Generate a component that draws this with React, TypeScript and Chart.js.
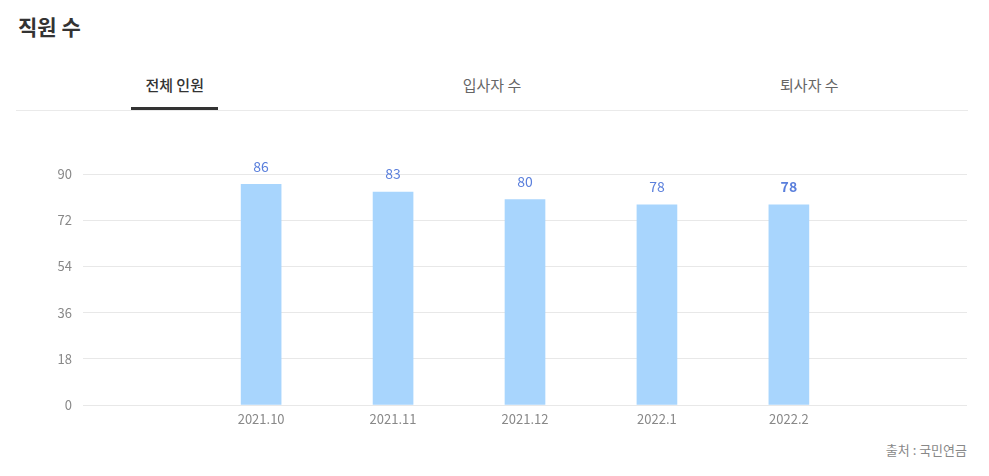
import React, { useEffect, useRef } from "react";
import { Chart, registerables } from "chart.js";

Chart.register(...registerables);

const categories = ["2021.10", "2021.11", "2021.12", "2022.1", "2022.2"];
const employees = [86, 83, 80, 78, 78];
const yTicks = [0, 18, 36, 54, 72, 90];
const tabs = ["전체 인원", "입사자 수", "퇴사자 수"];

const FONT = "'Noto Sans CJK KR', 'Noto Sans', sans-serif";

export default function App() {
  const ref = useRef<HTMLCanvasElement | null>(null);

  useEffect(() => {
    document.body.style.margin = "0";
    const canvas = ref.current;
    if (!canvas) return;

    const labelPlugin = {
      id: "valueLabels",
      afterDatasetsDraw(chart: any) {
        const ctx = chart.ctx;
        const meta = chart.getDatasetMeta(0);
        ctx.save();
        ctx.textAlign = "center";
        ctx.textBaseline = "middle";
        ctx.fillStyle = "#5a7fdc";
        meta.data.forEach((bar: any, i: number) => {
          const last = i === meta.data.length - 1;
          ctx.font = `${last ? "bold " : ""}14px ${FONT}`;
          ctx.fillText(String(employees[i]), bar.x, bar.y - 18);
        });
        ctx.restore();
      },
    };

    const chart = new Chart(canvas, {
      type: "bar",
      data: {
        datasets: [
          {
            data: employees.map((v, i) => ({ x: i, y: v })),
            backgroundColor: "#a8d5fd",
            barThickness: 40,
            borderWidth: 0,
          },
        ],
      },
      options: {
        animation: false,
        responsive: false,
        maintainAspectRatio: false,
        layout: { padding: { top: 24, right: 22, left: 0, bottom: 0 } },
        plugins: { legend: { display: false }, tooltip: { enabled: false } },
        scales: {
          x: {
            type: "linear",
            offset: false,
            min: -1.35,
            max: categories.length - 1 + 1.35,
            grid: { display: false },
            border: { display: false },
            afterBuildTicks: (axis: any) => {
              axis.ticks = categories.map((_, i) => ({ value: i }));
            },
            afterFit: (axis: any) => {
              axis.height = 35;
            },
            ticks: {
              autoSkip: false,
              maxRotation: 0,
              padding: -2,
              color: "#888",
              font: { family: FONT, size: 13 },
              callback: (v: any) => categories[v] ?? "",
            },
          },
          y: {
            min: 0,
            max: 90,
            afterBuildTicks: (axis: any) => {
              axis.ticks = yTicks.map((v) => ({ value: v }));
            },
            afterFit: (axis: any) => {
              axis.width = 83;
            },
            border: { display: false },
            grid: { color: "#e8e8e8", drawTicks: false, lineWidth: 1 },
            ticks: {
              padding: 11,
              color: "#888",
              font: { family: FONT, size: 13 },
            },
          },
        },
      },
      plugins: [labelPlugin],
    });
    return () => chart.destroy();
  }, []);

  return (
    <div
      style={{
        position: "absolute",
        left: 0,
        top: 0,
        width: 989,
        height: 476,
        background: "#fff",
        fontFamily: FONT,
        overflow: "hidden",
      }}
    >
      <div
        style={{
          position: "absolute",
          left: 18,
          top: 10,
          fontSize: 21,
          fontWeight: 700,
          color: "#333",
          lineHeight: "32px",
        }}
      >
        직원 수
      </div>
      <div
        style={{
          position: "absolute",
          left: 16,
          top: 64,
          width: 952,
          height: 46,
          borderBottom: "1px solid #eaeaea",
          display: "flex",
        }}
      >
        {tabs.map((t, i) => (
          <div
            key={t}
            style={{
              flex: 1,
              display: "flex",
              justifyContent: "center",
              alignItems: "flex-start",
            }}
          >
            <div
              style={{
                fontSize: 15,
                lineHeight: "42px",
                height: 43,
                padding: "0 14px",
                color: i === 0 ? "#333" : "#666",
                fontWeight: i === 0 ? 500 : 400,
                borderBottom: i === 0 ? "3px solid #333" : "none",
              }}
            >
              {t}
            </div>
          </div>
        ))}
      </div>
      <canvas
        ref={ref}
        width={989}
        height={290}
        style={{ position: "absolute", left: 0, top: 150, width: 989, height: 290 }}
      />
      <div
        style={{
          position: "absolute",
          right: 22,
          top: 440,
          fontSize: 13,
          color: "#888",
          lineHeight: "20px",
        }}
      >
        출처 : 국민연금
      </div>
    </div>
  );
}
